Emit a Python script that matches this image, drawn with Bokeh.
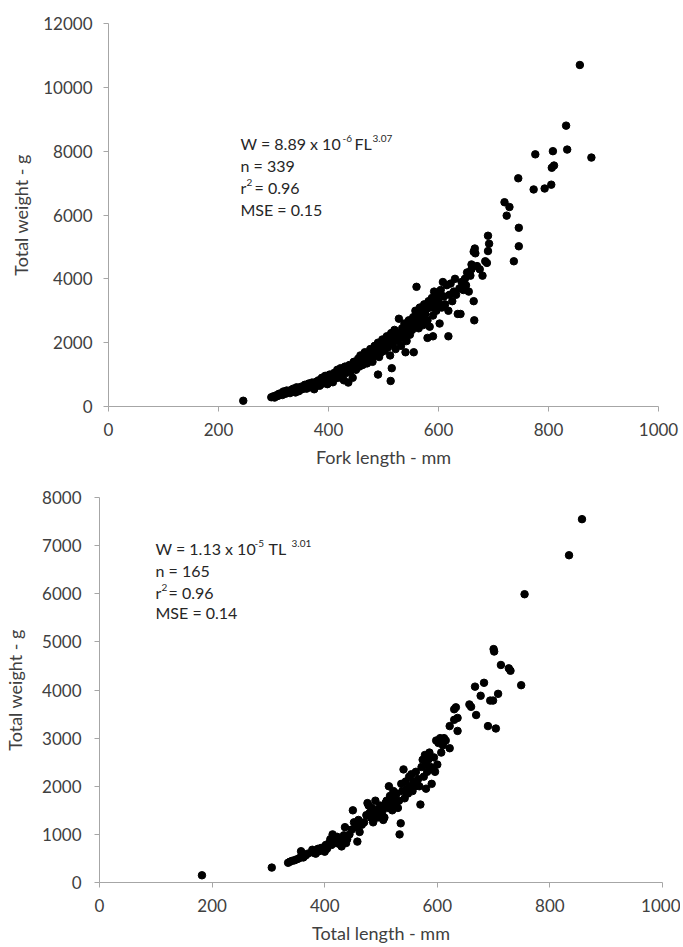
from bokeh.plotting import figure
from bokeh.models import Range1d, FixedTicker, Label
from bokeh.embed import file_html
from bokeh.resources import INLINE

# ---------------- data: top panel (fork length vs total weight) ----------------
fl_mm = [
    245, 857, 832, 834, 808, 776, 878, 810, 806, 805, 793, 773, 745, 720, 729, 724,
    746, 746, 737, 690, 692, 690, 688, 685, 666, 664, 667, 664, 665, 680, 675, 670,
    660, 655, 618, 590, 580, 560, 555, 540, 513, 490, 515,
    296, 300, 302, 305, 308, 310, 312, 315, 316, 318, 320, 322, 324, 326, 328, 330,
    332, 334, 336, 338, 340, 342, 344, 346, 348,
    350, 352, 355, 357, 360, 362, 364, 366, 368, 370, 372, 374, 376, 378, 380, 382,
    384, 386, 388, 390, 392, 394, 396, 398, 400,
    402, 404, 406, 408, 410, 412, 414, 416, 418, 420, 422, 424, 426, 428, 430, 432,
    434, 436, 438, 440, 442, 444, 446, 448, 450,
    452, 454, 456, 458, 460, 462, 464, 466, 468, 470, 472, 474, 476, 478, 480, 482,
    484, 486, 488, 490, 492, 494, 496, 498, 500,
    502, 504, 506, 508, 510, 512, 514, 516, 518, 520, 522, 524, 526, 528, 530, 532,
    534, 536, 538, 540, 542, 544, 546, 548, 550,
    552, 554, 556, 558, 560, 562, 564, 566, 568, 570, 572, 574, 576, 578, 580, 582,
    584, 586, 588, 590, 592, 594, 596, 598, 600,
    602, 604, 606, 608, 610, 612, 615, 618, 620, 622, 625, 628, 630, 632, 635, 638,
    640, 642, 645, 648, 650, 652, 655, 658, 660,
]
fl_weight_g = [
    180, 10700, 8800, 8050, 8000, 7900, 7800, 7550, 7480, 6950, 6830, 6800, 7150, 6400, 6250, 5980,
    5600, 5020, 4550, 5350, 5100, 4870, 4500, 4550, 4950, 4850, 4800, 3300, 2700, 4100, 4300, 4400,
    4450, 4200, 2200, 2200, 2150, 3750, 1700, 1700, 800, 1000, 1200,
    290, 320, 280, 350, 330, 400, 380, 420, 360, 470, 440, 400, 500, 450, 480, 420,
    520, 470, 560, 500, 440, 600, 520, 480, 560,
    620, 540, 600, 680, 560, 640, 720, 600, 660, 750, 690, 540, 620, 780, 700, 820,
    650, 760, 900, 720, 840, 960, 780, 700, 880,
    1000, 820, 920, 760, 1050, 880, 980, 1150, 900, 1020, 1200, 950, 1100, 820, 1250, 1050,
    1150, 750, 1300, 1100, 1200, 900, 1400, 1250, 1150,
    1350, 1500, 1250, 1600, 1400, 1300, 1550, 1700, 1450, 1350, 1650, 1500, 1800, 1550, 1400, 1700,
    1900, 1600, 1750, 2000, 1550, 1850, 1700, 2100, 1900,
    1750, 2000, 2200, 1850, 2100, 1600, 2300, 1950, 2150, 2400, 1800, 2200, 2050, 2750, 2300, 1900,
    2450, 2150, 2600, 2350, 2050, 2500, 2700, 2250, 2600,
    2400, 2800, 2550, 3000, 2650, 2900, 2450, 3100, 2750, 2950, 2550, 3200, 2900, 3050, 2700, 3300,
    2500, 3100, 3400, 2850, 3600, 3200, 3000, 3500, 3300,
    2600, 3650, 3100, 3900, 3450, 3200, 3800, 3000, 3500, 3850, 3300, 3600, 4000, 3500, 2900, 3700,
    2900, 3900, 3650, 4000, 3800, 4200, 3600, 4100, 4300,
]

# ---------------- data: bottom panel (total length vs total weight) ----------------
tl_mm = [
    182, 306, 857, 834, 755, 700, 701, 713, 727, 730, 749, 708, 694, 699, 677, 683,
    667, 669, 690, 704, 657, 660, 633, 630, 622, 630, 636, 636, 622,
    335, 338, 342, 346, 350, 354, 358, 358, 362, 366, 370, 378, 380, 384, 388, 390,
    394, 400, 402, 404, 408, 410, 412, 414, 416, 418, 420, 422, 424, 426, 428, 430,
    432, 434, 436, 438, 440, 444, 448, 450, 452, 456, 458, 460, 462, 466, 470, 474,
    476, 478, 480, 482, 484, 486, 488, 490, 492, 494, 498, 500, 502, 504, 506, 508,
    510, 512, 514, 516, 518, 520, 522, 524, 526, 528, 530, 532, 533, 535, 536, 538,
    540, 542, 544, 546, 548, 550, 552, 554, 556, 558, 560, 562, 564, 566, 568, 570,
    572, 574, 576, 578, 580, 580, 582, 584, 586, 588, 590, 592, 594, 596, 598, 600,
    602, 605, 607, 610, 612, 615,
]
tl_weight_g = [
    150, 310, 7550, 6800, 5990, 4850, 4800, 4520, 4450, 4400, 4100, 3920, 3780, 3780, 3880, 4150,
    4070, 3480, 3250, 3200, 3700, 3650, 3640, 3600, 3250, 3380, 3150, 3420, 2790,
    410, 430, 450, 460, 480, 500, 650, 540, 520, 560, 600, 680, 620, 600, 700, 650,
    720, 640, 780, 700, 820, 900, 780, 1000, 860, 920, 820, 950, 880, 800, 900, 750,
    850, 980, 1150, 820, 900, 1000, 1100, 1500, 1250, 1150, 850, 1300, 1050, 1200, 1250, 1400,
    1650, 1600, 1450, 1350, 1550, 1250, 1400, 1700, 1500, 1350, 1600, 1550, 1450, 1300, 1350, 1650,
    1700, 1550, 2000, 1800, 1650, 1500, 1900, 1750, 1600, 1850, 1550, 1700, 1000, 1230, 2050, 1900,
    2350, 1750, 2100, 1950, 1850, 2200, 2000, 2250, 1900, 2100, 2000, 2300, 2050, 2150, 2000, 1620,
    2400, 2550, 2200, 2650, 1950, 2450, 2300, 2550, 2700, 2400, 2050, 2350, 2600, 2300, 2950, 2450,
    2900, 3000, 2700, 2850, 3000, 2950,
]

x_ticks = [0, 200, 400, 600, 800, 1000]
top_y_ticks = [0, 2000, 4000, 6000, 8000, 10000, 12000]
bottom_y_ticks = [0, 1000, 2000, 3000, 4000, 5000, 6000, 7000, 8000]

FONT = "Lato"
AXIS_GREY = "#a6a6a6"
TEXT_GREY = "#404040"


def style(p, xticks, yticks, xlabel, ylabel, y_label_standoff, y_title_standoff):
    p.xaxis.ticker = FixedTicker(ticks=xticks)
    p.yaxis.ticker = FixedTicker(ticks=yticks)
    p.xaxis.axis_label = xlabel
    p.yaxis.axis_label = ylabel
    for ax in (p.xaxis[0], p.yaxis[0]):
        ax.axis_line_color = AXIS_GREY
        ax.major_tick_line_color = AXIS_GREY
        ax.major_tick_in = 0
        ax.major_tick_out = 5
        ax.minor_tick_line_color = None
        ax.major_label_text_font = FONT
        ax.major_label_text_font_size = "17px"
        ax.major_label_text_color = TEXT_GREY
        ax.axis_label_text_font = FONT
        ax.axis_label_text_font_size = "18px"
        ax.axis_label_text_font_style = "normal"
        ax.axis_label_text_color = TEXT_GREY
    p.xaxis[0].major_label_standoff = 11
    p.xaxis[0].axis_label_standoff = 7
    p.yaxis[0].major_label_standoff = y_label_standoff
    p.yaxis[0].axis_label_standoff = y_title_standoff
    p.grid.visible = False
    p.outline_line_color = None


def add_text(p, x, y, txt, xo=0, yo=0, size="16px"):
    p.add_layout(Label(x=x, y=y, text=txt, x_offset=xo, y_offset=yo,
                       text_font=FONT, text_font_size=size, text_color="#262626",
                       text_baseline="middle", text_align="left"))


# ---------------- top figure ----------------
p1 = figure(width=680, height=470, x_range=Range1d(0, 1000), y_range=Range1d(0, 12000),
            output_backend="svg", toolbar_location=None,
            min_border_left=108, min_border_right=22, min_border_top=23, min_border_bottom=63)
style(p1, x_ticks, top_y_ticks, "Fork length - mm", "Total weight - g", 11, 8)
p1.scatter(fl_mm, fl_weight_g, size=7.5, color="black", line_color="black")

add_text(p1, 240, 8250, "W = 8.89 x 10")
add_text(p1, 240, 8250, "-6", xo=102, yo=5, size="10px")
add_text(p1, 240, 8250, "FL", xo=114)
add_text(p1, 240, 8250, "3.07", xo=132, yo=5, size="10px")
add_text(p1, 240, 7562, "n = 339")
add_text(p1, 240, 6875, "r")
add_text(p1, 240, 6875, "2", xo=6, yo=5, size="10px")
add_text(p1, 240, 6875, "= 0.96", xo=14)
add_text(p1, 240, 6187, "MSE = 0.15")

# ---------------- bottom figure ----------------
p2 = figure(width=680, height=476, x_range=Range1d(0, 1000), y_range=Range1d(0, 8000),
            output_backend="svg", toolbar_location=None,
            min_border_left=99, min_border_right=18, min_border_top=27, min_border_bottom=62)
style(p2, x_ticks, bottom_y_ticks, "Total length - mm", "Total weight - g", 13, 13)
p2.scatter(tl_mm, tl_weight_g, size=7.5, color="black", line_color="black")

add_text(p2, 99.5, 6945, "W = 1.13 x 10")
add_text(p2, 99.5, 6945, "-5", xo=99, yo=5, size="10px")
add_text(p2, 99.5, 6945, "TL", xo=113)
add_text(p2, 99.5, 6945, "3.01", xo=136, yo=5, size="10px")
add_text(p2, 99.5, 6490, "n = 165")
add_text(p2, 99.5, 6036, "r")
add_text(p2, 99.5, 6036, "2", xo=6, yo=5, size="10px")
add_text(p2, 99.5, 6036, "= 0.96", xo=13)
add_text(p2, 99.5, 5602, "MSE = 0.14")

open("out.html", "w").write(file_html([p1, p2], INLINE))
